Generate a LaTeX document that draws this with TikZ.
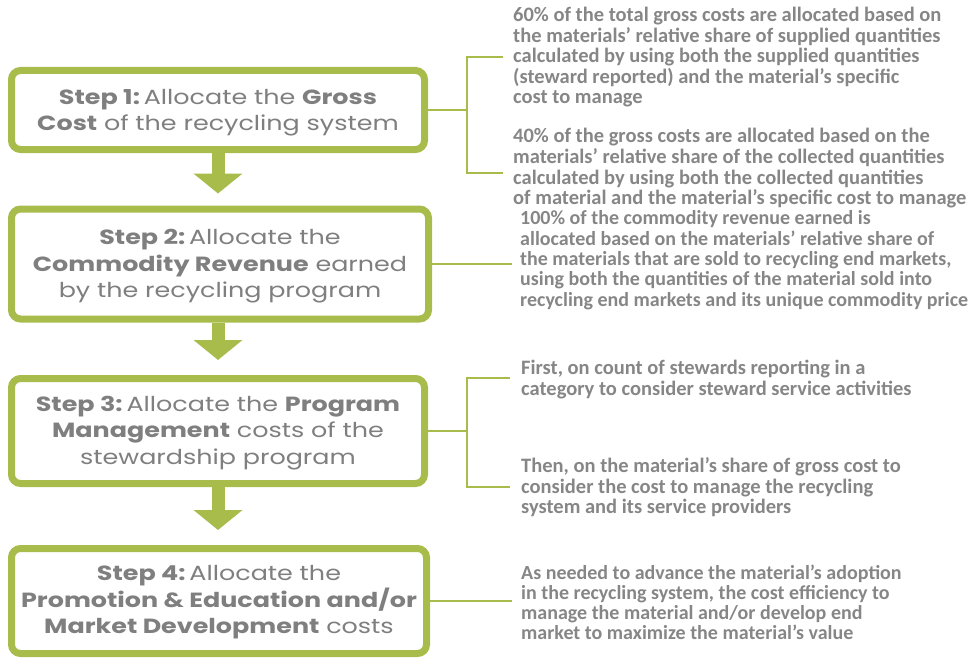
\documentclass[tikz,border=0pt]{standalone}
\usepackage{fontspec}
\setmainfont{Poppins}[FakeStretch=1.24]
\newfontfamily\notefont{Carlito}
\usetikzlibrary{arrows.meta,calc}
\definecolor{grn}{HTML}{A8BC4C}
\definecolor{txt}{HTML}{7F7F7F}
\definecolor{ntxt}{HTML}{868686}
\newcommand\stepno[1]{\textbf{Step #1:}\kern-3pt\ }
\begin{document}
\begin{tikzpicture}[x=1pt,y=-1pt,
  stepbox/.style={draw=grn, line width=7pt, rounded corners=9pt, fill=white, inner sep=0pt},
  steptext/.style={align=center, text=txt, font=\fontsize{20.5}{26.5}\selectfont, inner sep=0pt},
  link/.style={draw=grn, line width=1.6pt},
  flow/.style={draw=grn, line width=13pt, -{Triangle[width=48pt,length=20pt]}},
  note/.style={anchor=base west, inner sep=0pt, text=ntxt,
    font=\notefont\bfseries\fontsize{20.5}{19.8}\selectfont}
]
\useasboundingbox (0,0) rectangle (976,658);

% step boxes
\node[stepbox, minimum width=413pt, minimum height=79pt] (b1) at (218,110) {};
\node[stepbox, minimum width=417pt, minimum height=110pt] (b2) at (220,264) {};
\node[stepbox, minimum width=413pt, minimum height=105pt] (b3) at (218,431) {};
\node[stepbox, minimum width=415pt, minimum height=105pt] (b4) at (219,601) {};

\node[steptext] (s1) at ($(b1.center)+(0,2.5)$)
  {\stepno{1}Allocate the \textbf{Gross}\\\textbf{Cost} of the recycling system};
\node[steptext] (s2) at ($(b2.center)+(0,2.5)$)
  {\stepno{2}Allocate the\\\textbf{Commodity Revenue} earned\\by the recycling program};
\node[steptext] (s3) at ($(b3.center)+(0,2)$)
  {\stepno{3}Allocate the \textbf{Program}\\\textbf{Management} costs of the\\stewardship program};
\node[steptext] (s4) at ($(b4.center)+(0,1.5)$)
  {\stepno{4}Allocate the\\\textbf{Promotion \& Education and/or}\\\textbf{Market Development} costs};

% flow arrows
\draw[flow, shorten >=12pt] (b1.south) -- (b1.south |- b2.north);
\draw[flow, shorten >=15pt] (b2.south -| b1.south) -- (b1.south |- b3.north);
\draw[flow, shorten >=15pt] (b3.south) -- (b3.south |- b4.north);

% notes
\node[note] (n1a) at (513,21.6) {\begin{tabular}[t]{@{}l@{}}
60\% of the total gross costs are allocated based on\\
the materials’ relative share of supplied quantities\\
calculated by using both the supplied quantities\\
(steward reported) and the material’s specific\\
cost to manage\end{tabular}};
\node[note] (n1b) at (513,142.8) {\begin{tabular}[t]{@{}l@{}}
40\% of the gross costs are allocated based on the\\
materials’ relative share of the collected quantities\\
calculated by using both the collected quantities\\
of material and the material’s specific cost to manage\end{tabular}};
\node[note, font=\notefont\bfseries\fontsize{20}{20.2}\selectfont] (n2) at (520,224.8) {\begin{tabular}[t]{@{}l@{}}
100\% of the commodity revenue earned is\\
allocated based on the materials’ relative share of\\
the materials that are sold to recycling end markets,\\
using both the quantities of the material sold into\\
recycling end markets and its unique commodity price\end{tabular}};
\node[note] (n3a) at (521,374.8) {\begin{tabular}[t]{@{}l@{}}
First, on count of stewards reporting in a\\
category to consider steward service activities\end{tabular}};
\node[note] (n3b) at (521,472.8) {\begin{tabular}[t]{@{}l@{}}
Then, on the material’s share of gross cost to\\
consider the cost to manage the recycling\\
system and its service providers\end{tabular}};
\node[note, font=\notefont\bfseries\fontsize{20}{19.3}\selectfont] (n4) at (521,579.5) {\begin{tabular}[t]{@{}l@{}}
As needed to advance the material’s adoption\\
in the recycling system, the cost efficiency to\\
manage the material and/or develop end\\
market to maximize the material’s value\end{tabular}};

% connectors
\coordinate (k1) at (467,0);
\coordinate (k1t) at (503,57);
\coordinate (k1b) at (503,173);
\draw[link] (b1.east) -- (b1.east -| k1);
\draw[link] (k1t) -- (k1t -| k1) -- (k1b -| k1) -- (k1b);
\coordinate (k2) at (512,0);
\draw[link] (b2.east) -- (b2.east -| k2);
\coordinate (k3) at (467,0);
\coordinate (k3t) at (510,378);
\coordinate (k3b) at (510,487);
\draw[link] (b3.east) -- (b3.east -| k3);
\draw[link] (k3t) -- (k3t -| k3) -- (k3b -| k3) -- (k3b);
\coordinate (k4) at (512,0);
\draw[link] (b4.east) -- (b4.east -| k4);
\end{tikzpicture}
\end{document}
